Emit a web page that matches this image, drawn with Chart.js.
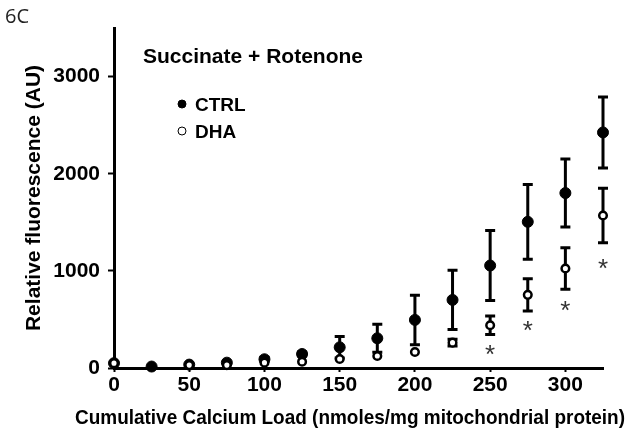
<!DOCTYPE html>
<html>
<head>
<meta charset="utf-8">
<script src="https://cdn.jsdelivr.net/npm/chart.js@4/dist/chart.umd.min.js"></script>
<style>
  html,body{margin:0;padding:0;background:#fff;}
  #wrap{position:relative;width:630px;height:435px;}
</style>
</head>
<body>
<div id="wrap">
  <canvas id="c" width="630" height="435"></canvas>
</div>
<script>
// calcium load (nmoles/mg protein) and fluorescence readings
const loads    = [0, 25, 50, 75, 100, 125, 150, 175, 200, 225, 250, 275, 300, 325];
const ctrlMean = [50, 15, 35, 55, 90, 144, 213, 306, 495, 701, 1055, 1505, 1801, 2425];
const ctrlErr  = [0, 0, 0, 0, 20, 20, 110, 145, 255, 305, 360, 385, 350, 365];
const dhaMean  = [50, null, 30, 30, 55, 65, 93, 124, 165, 261, 440, 753, 1024, 1570];
const dhaErr   = [0, 0, 0, 0, 0, 0, 0, 0, 0, 35, 95, 165, 213, 280];
const sigLoads = [250, 275, 300, 325];
const sigLevel = [195, 443, 650, 1082];
const xTicks = [0, 50, 100, 150, 200, 250, 300];
const yTicks = [0, 1000, 2000, 3000];
const panelTitle = 'Succinate + Rotenone';
const xTitle = 'Cumulative Calcium Load (nmoles/mg mitochondrial protein)';

const pts = (m) => loads.map((x, i) => ({x, y: m[i]})).filter(p => p.y != null);
const boldFont = (s) => ({family: 'Liberation Sans, Arial, sans-serif', size: s, weight: 'bold'});

const errorBars = {
  id: 'errorBars',
  beforeDatasetsDraw(chart) {
    const {ctx, scales: {x, y}} = chart;
    const sets = [[ctrlMean, ctrlErr], [dhaMean, dhaErr]];
    ctx.save();
    ctx.strokeStyle = '#000'; ctx.lineWidth = 3;
    sets.forEach(([m, e]) => {
      loads.forEach((ld, i) => {
        if (m[i] == null || !e[i]) return;
        const px = x.getPixelForValue(ld);
        const t = y.getPixelForValue(m[i] + e[i]), b = y.getPixelForValue(m[i] - e[i]);
        ctx.beginPath();
        ctx.moveTo(px, t); ctx.lineTo(px, b);
        ctx.moveTo(px - 5, t); ctx.lineTo(px + 5, t);
        ctx.moveTo(px - 5, b); ctx.lineTo(px + 5, b);
        ctx.stroke();
      });
    });
    ctx.restore();
  },
  afterDraw(chart) {
    const {ctx, scales: {x, y}} = chart;
    ctx.save();
    // significance marks
    ctx.fillStyle = '#333';
    ctx.font = '26px "Liberation Sans", Arial, sans-serif';
    ctx.textAlign = 'center'; ctx.textBaseline = 'alphabetic';
    sigLoads.forEach((ld, i) => {
      ctx.fillText('*', x.getPixelForValue(ld), y.getPixelForValue(sigLevel[i]) + 14);
    });
    // panel label
    ctx.fillStyle = '#222'; ctx.textAlign = 'left';
    ctx.font = '20px "Open Sans", sans-serif';
    ctx.fillText('6C', 5, 23);
    // panel title and legend
    ctx.fillStyle = '#000';
    ctx.font = 'bold 21px "Liberation Sans", Arial, sans-serif';
    ctx.fillText(panelTitle, 143, 63);
    ctx.font = 'bold 19px "Liberation Sans", Arial, sans-serif';
    chart.data.datasets.slice().reverse().forEach((ds, i) => {
      const cy = 104 + i * 27;
      ctx.beginPath(); ctx.arc(182, cy, 4, 0, Math.PI * 2);
      ctx.fillStyle = ds.backgroundColor; ctx.fill();
      ctx.lineWidth = 1; ctx.strokeStyle = '#000'; ctx.stroke();
      ctx.fillStyle = '#000';
      ctx.fillText(ds.label, 195, cy + 7);
    });
    // x axis title
    ctx.font = 'bold 21px "Liberation Sans", Arial, sans-serif';
    ctx.textAlign = 'center'; ctx.textBaseline = 'middle';
    ctx.fillText(xTitle, 350, 418, 550);
    ctx.restore();
  }
};

new Chart(document.getElementById('c'), {
  type: 'scatter',
  data: {
    datasets: [
      {label: 'DHA', data: pts(dhaMean), order: 0, pointRadius: 3.8, pointHoverRadius: 3.8,
       backgroundColor: '#fff', borderColor: '#000', pointBorderWidth: 2.5, clip: false},
      {label: 'CTRL', data: pts(ctrlMean), order: 1, pointRadius: 5.5, pointHoverRadius: 5.5,
       backgroundColor: '#000', borderColor: '#000', pointBorderWidth: 1, clip: false}
    ]
  },
  options: {
    responsive: false,
    animation: false,
    layout: {padding: {top: 28, right: 27, left: 0, bottom: 0}},
    plugins: {legend: {display: false}, tooltip: {enabled: false}},
    scales: {
      x: {
        type: 'linear', min: 0, max: 325,
        afterBuildTicks: (s) => { s.ticks = xTicks.map(v => ({value: v})); },
        afterFit: (s) => { s.height = 67; },
        grid: {drawOnChartArea: false, tickLength: 4, tickWidth: 2, tickColor: '#000'},
        border: {color: '#000', width: 3},
        ticks: {color: '#000', font: boldFont(21), padding: 1, maxRotation: 0,
                callback: (v) => String(v)}
      },
      y: {
        type: 'linear', min: 0, max: 3500,
        afterBuildTicks: (s) => { s.ticks = yTicks.map(v => ({value: v})); },
        afterFit: (s) => { s.width = 114; },
        grid: {drawOnChartArea: false, tickLength: 6, tickWidth: 2, tickColor: '#000'},
        border: {color: '#000', width: 3},
        ticks: {color: '#000', font: boldFont(21), padding: 8, callback: (v) => String(v)},
        title: {display: true, text: 'Relative fluorescence (AU)',
                color: '#000', font: boldFont(21), padding: {top: 22, bottom: 0}}
      }
    }
  },
  plugins: [errorBars]
});
</script>
</body>
</html>
